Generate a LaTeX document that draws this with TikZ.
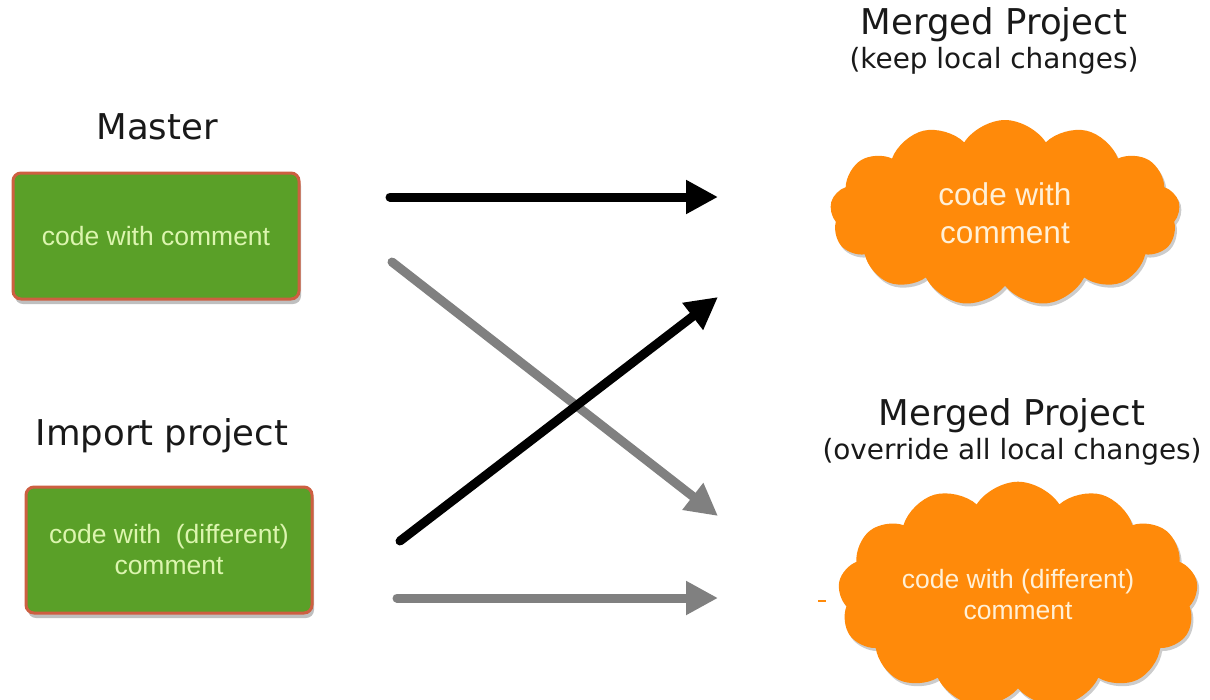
\documentclass[tikz,border=0pt]{standalone}
\usepackage{fontspec}
\setmainfont{Liberation Sans}
\newfontfamily\dvsans{DejaVu Sans}
\usetikzlibrary{arrows.meta,shapes.symbols,shadows}
\definecolor{boxgreen}{RGB}{90,160,40}
\definecolor{boxborder}{RGB}{205,95,65}
\definecolor{boxtext}{RGB}{220,245,175}
\definecolor{cloudorange}{RGB}{255,138,10}
\definecolor{cloudtext}{RGB}{255,240,215}
\definecolor{titlecol}{RGB}{25,25,25}
\definecolor{arrowgray}{RGB}{128,128,128}
\tikzset{
  title/.style={font=\dvsans\fontsize{35.5}{42}\selectfont, text=titlecol, inner sep=0pt},
  subtitle/.style={font=\dvsans\fontsize{27.9}{33}\selectfont, text=titlecol, inner sep=0pt},
  greenbox/.style={draw=boxborder, line width=3pt, fill=boxgreen, rounded corners=8pt,
    minimum width=286pt, minimum height=126pt, text=boxtext, align=center,
    font=\fontsize{26.5}{31}\selectfont,
    drop shadow={shadow xshift=2pt, shadow yshift=-5pt, opacity=0.25, fill=black}},
  cloudnode/.style={cloud, cloud puffs=13, cloud puff arc=115, fill=cloudorange, draw=none,
    text=cloudtext, align=center,
    drop shadow={shadow xshift=2pt, shadow yshift=-3pt, opacity=0.2, fill=black}},
  blackarrow/.style={draw=black, line width=9pt, line cap=round,
    -{Triangle[length=32pt,width=32pt]}},
  grayarrow/.style={draw=arrowgray, line width=9pt, line cap=round,
    -{Triangle[length=32pt,width=32pt]}},
}
\begin{document}
\begin{tikzpicture}[x=1pt,y=-1pt]
\useasboundingbox[fill=white] (0,0) rectangle (1210,699);

% titles
\node[title] (mtitle) at (157,127) {Master};
\node[title] (ititle) at (162,436) {Import project};
\node[title] (k1title) at (994,25) {Merged Project};
\node[subtitle] (k1sub) at (994,61) {(keep local changes)};
\node[title] (k2title) at (1012,416) {Merged Project};
\node[subtitle] (k2sub) at (1012,452) {(override all local changes)};

% boxes
\node[greenbox] (master) at (156,236) {code with comment};
\node[greenbox] (import) at (169,550) {code with\ \ (different)\\comment};

% clouds
\node[cloudnode, aspect=1.9, minimum width=350pt, minimum height=186pt,
      font=\fontsize{31.5}{38}\selectfont] (keep) at (1005,213) {code with\\comment};
\node[cloudnode, aspect=1.8, minimum width=360pt, minimum height=200pt,
      font=\fontsize{26.5}{31}\selectfont] (over) at (1018,595) {code with (different)\\comment};
\draw[cloudorange, line width=1.5pt] (818,601) -- (826,601);

% arrow end points
\coordinate (a1s) at (390,197);
\coordinate (a1e) at (718,197);
\coordinate (a2s) at (392,262);
\coordinate (a2e) at (718,516);
\coordinate (a3s) at (400,541);
\coordinate (a3e) at (718,297);
\coordinate (a4s) at (397,598);
\coordinate (a4e) at (718,598);

\draw[grayarrow] (a2s) -- (a2e);
\draw[blackarrow] (a3s) -- (a3e);
\draw[blackarrow] (a1s) -- (a1e);
\draw[grayarrow] (a4s) -- (a4e);
\end{tikzpicture}
\end{document}
